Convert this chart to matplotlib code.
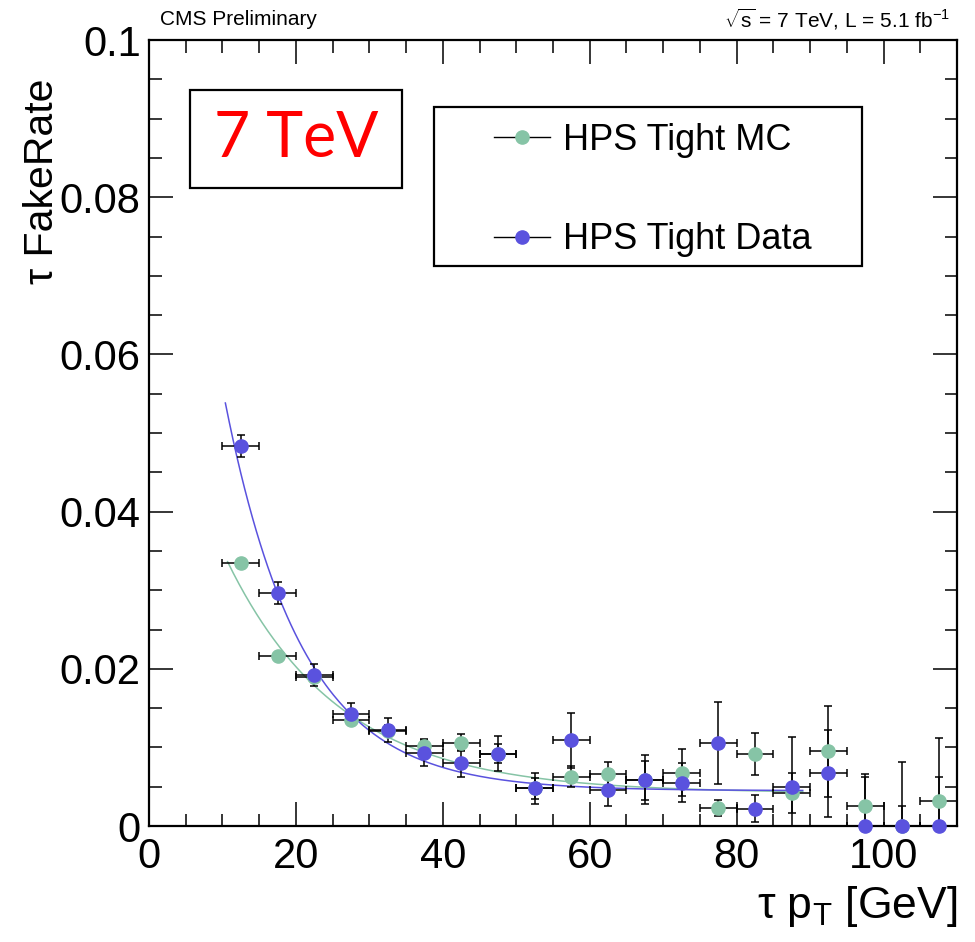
import numpy as np
import matplotlib.pyplot as plt
from matplotlib.ticker import MultipleLocator
from matplotlib.patches import Rectangle

plt.rcParams['font.family'] = ['Liberation Sans', 'DejaVu Sans']
plt.rcParams['mathtext.fontset'] = 'custom'
plt.rcParams['mathtext.rm'] = 'Liberation Sans'
plt.rcParams['mathtext.it'] = 'Liberation Sans'

# tau pT bins (centres, 5 GeV wide)
pt = [12.5, 17.5, 22.5, 27.5, 32.5, 37.5, 42.5, 47.5, 52.5, 57.5,
      62.5, 67.5, 72.5, 77.5, 82.5, 87.5, 92.5, 97.5, 102.5, 107.5]
pt_err = 2.5

fr_mc = [0.0335, 0.0216, 0.0190, 0.0135, 0.0121, 0.0102, 0.0106, 0.0092, 0.0048, 0.0063,
         0.0066, 0.0058, 0.0068, 0.0023, 0.0092, 0.0042, 0.0095, 0.0025, 0.0, 0.0032]
fr_mc_err = [0.0004, 0.0004, 0.0005, 0.0006, 0.0007, 0.0009, 0.0011, 0.0012, 0.0013, 0.0013,
             0.0016, 0.0025, 0.0030, 0.0010, 0.0027, 0.0025, 0.0058, 0.0041, 0.0025, 0.0030]

fr_data = [0.0483, 0.0296, 0.0192, 0.0142, 0.0122, 0.0093, 0.0080, 0.0092, 0.0048, 0.0109,
           0.0046, 0.0059, 0.0055, 0.0106, 0.0022, 0.0050, 0.0067, 0.0, 0.0, 0.0]
fr_data_err = [0.0014, 0.0014, 0.0014, 0.0014, 0.0015, 0.0017, 0.0017, 0.0022, 0.0020, 0.0035,
               0.0020, 0.0031, 0.0025, 0.0052, 0.0017, 0.0063, 0.0055, 0.0063, 0.0081, 0.0112]

# fit results a*exp(-b*pt) + c
fit_mc = (0.059, 0.065, 0.0042)
fit_data = (0.1326, 0.0951, 0.0045)
fit_range_mc = (10.7, 89.0)
fit_range_data = (10.4, 89.0)

green = '#86c4a6'
blue = '#5a52de'

fig = plt.figure(figsize=(9.75, 9.42), dpi=100)
ax = fig.add_axes([0.1528, 0.1231, 0.8287, 0.8344])

for (a, b, c), (lo, hi), col in [(fit_mc, fit_range_mc, green), (fit_data, fit_range_data, blue)]:
    xf = np.linspace(lo, hi, 300)
    ax.plot(xf, a * np.exp(-b * xf) + c, color=col, lw=1.1, zorder=2)

for y, e, col in [(fr_mc, fr_mc_err, green), (fr_data, fr_data_err, blue)]:
    ax.errorbar(pt, y, xerr=pt_err, yerr=e, fmt='none', ecolor='black',
                elinewidth=1.1, capsize=2.8, capthick=1.1, zorder=3)
    ax.plot(pt, y, 'o', color=col, ms=9.5, mec=col, zorder=4, clip_on=False)

ax.set_xlim(0, 110)
ax.set_ylim(0, 0.1)
ax.xaxis.set_major_locator(MultipleLocator(20))
ax.xaxis.set_minor_locator(MultipleLocator(5))
ax.yaxis.set_major_locator(MultipleLocator(0.02))
ax.yaxis.set_minor_locator(MultipleLocator(0.005))
ax.yaxis.set_major_formatter(plt.FuncFormatter(
    lambda v, p: '0' if v == 0 else ('0.1' if abs(v - 0.1) < 1e-9 else '%.2f' % v)))
ax.tick_params(which='both', direction='in', top=True, right=True, width=1.1,
               labelsize=30)
ax.tick_params(axis='x', pad=8)
ax.tick_params(axis='y', pad=6)
ax.tick_params(which='major', length=17)
ax.tick_params(which='minor', length=9)
for s in ax.spines.values():
    s.set_linewidth(1.6)

fig.text(0.043, 1 - 78 / 942, 'τ FakeRate', fontsize=29.5, rotation=90,
         ha='center', va='top')
fig.text(957 / 975, 1 - 918 / 942, r'τ p$_{\mathrm{T}}$ [GeV]', fontsize=32,
         ha='right', va='baseline')

fig.text(0.164, 0.979, 'CMS Preliminary', fontsize=15, va='center')
fig.text(0.974, 0.979, r'$\sqrt{\mathrm{s}}$ = 7 TeV, L = 5.1 fb$^{\mathrm{-1}}$', fontsize=15,
         va='center', ha='right')

# "7 TeV" box
ax.add_patch(Rectangle((0.0507, 0.8117), 0.2624, 0.1247, transform=ax.transAxes,
                       fc='white', ec='black', lw=1.6, zorder=5))
ax.text(0.0507 + 0.1312, 0.8117 + 0.0624, '7 TeV', transform=ax.transAxes,
        fontsize=45, color='red', ha='center', va='center',
        family=['Lato', 'DejaVu Sans'], zorder=6)

# legend
ax.add_patch(Rectangle((0.3527, 0.7125), 0.5297, 0.2023, transform=ax.transAxes,
                       fc='white', ec='black', lw=1.6, zorder=5))
ax.plot([], [], '-o', color='black', lw=1, mfc=green, mec=green, ms=9.5, label='HPS Tight MC')
ax.plot([], [], '-o', color='black', lw=1, mfc=blue, mec=blue, ms=9.5, label='HPS Tight Data')
leg = ax.legend(loc='upper left', bbox_to_anchor=(0.427, 0.8944), fontsize=26,
                frameon=False, labelspacing=1.78, handlelength=1.55, borderpad=0,
                handletextpad=0.36, borderaxespad=0)
leg.set_zorder(6)

fig.savefig('out.png', dpi=100)
